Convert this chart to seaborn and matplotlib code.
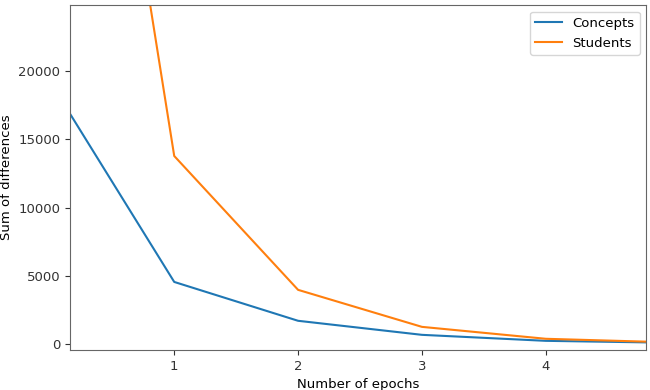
import matplotlib
matplotlib.use("Agg")
import matplotlib.pyplot as plt
import seaborn as sns
import pandas as pd

epochs = [0, 1, 2, 3, 4, 5]
concepts = [19200, 4540, 1690, 660, 220, 80]
students = [70800, 13780, 3960, 1245, 370, 110]
series_names = ["Concepts", "Students"]

df = pd.DataFrame({
    "epoch": epochs * 2,
    "value": concepts + students,
    "series": [series_names[0]] * len(epochs) + [series_names[1]] * len(epochs),
})

plt.rcParams["font.family"] = ["DejaVu Sans"]
plt.rcParams["font.size"] = 9.5

fig = plt.figure(figsize=(6.5, 3.9), dpi=100)
ax = fig.add_axes([0.108, 0.103, 0.886, 0.884])
sns.lineplot(data=df, x="epoch", y="value", hue="series",
             palette=["#1f77b4", "#ff7f0e"], linewidth=1.5, ax=ax)
ax.set_xlim(0.16, 4.81)
ax.set_ylim(-440, 24850)
ax.set_xticks([1, 2, 3, 4])
ax.set_yticks([0, 5000, 10000, 15000, 20000])
ax.set_xlabel("Number of epochs")
ax.set_ylabel("Sum of differences")
for s in ax.spines.values():
    s.set_color("#666666")
ax.tick_params(colors="#333333")
ax.legend(title=None, loc="upper right")
fig.savefig("out.png", dpi=100)
